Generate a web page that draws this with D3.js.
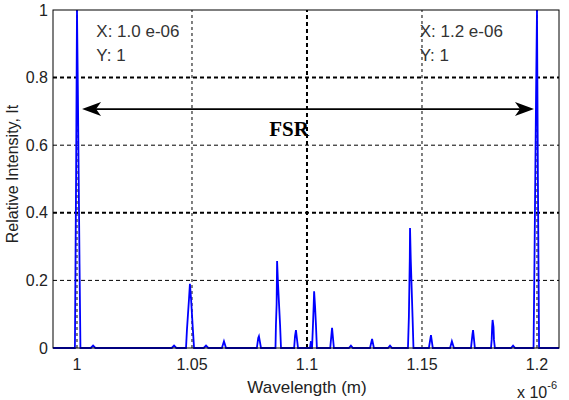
<!DOCTYPE html>
<html>
<head>
<meta charset="utf-8">
<script src="https://cdn.jsdelivr.net/npm/d3@7"></script>
<style>
  body { margin: 0; background: #fff; }
  text { font-family: "Liberation Sans", Arial, sans-serif; fill: #222; }
</style>
</head>
<body>
<svg id="chart"></svg>
<script>
const width = 569;
const height = 400;
const margin = {top: 10, right: 10, bottom: 52, left: 53};

// wavelength in units of 1e-6 m, relative intensity
const wavelength = [
  0.9896,
  0.9991, 0.9996, 1.0000, 1.0004, 1.0011, 1.0015,
  1.0060, 1.0070, 1.0080,
  1.0412, 1.0422, 1.0432,
  1.0474, 1.0478, 1.0487, 1.0491, 1.0496, 1.0504, 1.0509,
  1.0551, 1.0561, 1.0571,
  1.0630, 1.0639, 1.0648,
  1.0782, 1.0788, 1.0791, 1.0800,
  1.0863, 1.0865, 1.0868, 1.0870, 1.0874, 1.0883, 1.0887,
  1.0944, 1.0948, 1.0952, 1.0961,
  1.1013, 1.1017, 1.1020,
  1.1022, 1.1026, 1.1029, 1.1031, 1.1035, 1.1039, 1.1043,
  1.1101, 1.1107, 1.1109, 1.1117,
  1.1182, 1.1191, 1.1200,
  1.1274, 1.1283, 1.1291,
  1.1352, 1.1361, 1.1370,
  1.1439, 1.1443, 1.1447, 1.1448, 1.1451, 1.1459, 1.1463,
  1.1530, 1.1537, 1.1539, 1.1547,
  1.1622, 1.1630, 1.1639,
  1.1713, 1.1719, 1.1722, 1.1730,
  1.1800, 1.1803, 1.1805, 1.1807, 1.1811, 1.1813, 1.1817,
  1.1887, 1.1896, 1.1905,
  1.1985, 1.1989, 1.1996, 1.2000, 1.2004, 1.2009,
  1.2096
];
const intensity = [
  0,
  0, 0.5, 1, 0.75, 0.25, 0,
  0, 0.007, 0,
  0, 0.007, 0,
  0, 0.053, 0.145, 0.19, 0.145, 0.053, 0,
  0, 0.007, 0,
  0, 0.02, 0,
  0, 0.03, 0.035, 0,
  0, 0.068, 0.13, 0.257, 0.19, 0.068, 0,
  0, 0.035, 0.053, 0,
  0, 0.02, 0,
  0, 0.068, 0.124, 0.168, 0.124, 0.068, 0,
  0, 0.045, 0.06, 0,
  0, 0.007, 0,
  0, 0.027, 0,
  0, 0.007, 0,
  0, 0.092, 0.266, 0.355, 0.266, 0.092, 0,
  0, 0.03, 0.038, 0,
  0, 0.02, 0,
  0, 0.038, 0.053, 0,
  0, 0.024, 0.062, 0.083, 0.062, 0.024, 0,
  0, 0.007, 0,
  0, 0.25, 0.75, 1, 0.5, 0,
  0
];

const xTicks = [1, 1.05, 1.1, 1.15, 1.2];
const xTickLabels = ["1", "1.05", "1.1", "1.15", "1.2"];
const yTicks = [0, 0.2, 0.4, 0.6, 0.8, 1];
const yTickLabels = ["0", "0.2", "0.4", "0.6", "0.8", "1"];
const heavyGridX = [1.1];
const heavyGridY = [0.4, 0.8];

const dataTips = [
  {x: 1.0, y: 1, at: 1.0084},
  {x: 1.2, y: 1, at: 1.1490}
];
const fsr = {from: 1.0022, to: 1.1987, level: 0.707, label: "FSR"};

const svg = d3.select('#chart').attr('width', width).attr('height', height);
svg.append('rect').attr('width', width).attr('height', height).attr('fill', '#fff');

const x = d3.scaleLinear().domain([0.98957, 1.20957]).range([margin.left, width - margin.right]);
const y = d3.scaleLinear().domain([0, 1]).range([height - margin.bottom, margin.top]);

// Grid
const grid = svg.append('g');
grid.selectAll('line.gx')
  .data(xTicks)
  .join('line')
  .attr('x1', d => x(d)).attr('x2', d => x(d))
  .attr('y1', y(0)).attr('y2', y(1))
  .style('stroke', '#000')
  .style('stroke-width', d => heavyGridX.includes(d) ? 2 : 1)
  .style('stroke-dasharray', d => heavyGridX.includes(d) ? '4,3' : '3,3');
grid.selectAll('line.gy')
  .data(yTicks.filter(d => d > 0 && d < 1))
  .join('line')
  .attr('x1', x.range()[0]).attr('x2', x.range()[1])
  .attr('y1', d => y(d)).attr('y2', d => y(d))
  .style('stroke', '#000')
  .style('stroke-width', d => heavyGridY.includes(d) ? 2 : 1)
  .style('stroke-dasharray', '4,3');

// Spectrum
const points = wavelength.map((w, i) => [w, intensity[i]]);
svg.append('path')
  .datum(points)
  .attr('d', d3.line().x(d => x(d[0])).y(d => y(d[1])))
  .style('fill', 'none')
  .style('stroke', '#0000ff')
  .style('stroke-width', 1.8)
  .style('stroke-linejoin', 'miter');

// Axes box
svg.append('rect')
  .attr('x', x.range()[0]).attr('y', y(1))
  .attr('width', x.range()[1] - x.range()[0])
  .attr('height', y(0) - y(1))
  .style('fill', 'none').style('stroke', '#000').style('stroke-width', 1);

// Tick labels
svg.append('g')
  .selectAll('text')
  .data(xTicks)
  .join('text')
  .attr('x', d => x(d))
  .attr('y', y(0) + 22)
  .attr('text-anchor', 'middle')
  .attr('font-size', 16)
  .text((d, i) => xTickLabels[i]);
svg.append('g')
  .selectAll('text')
  .data(yTicks)
  .join('text')
  .attr('x', x.range()[0] - 5)
  .attr('y', d => y(d))
  .attr('dy', '0.35em')
  .attr('text-anchor', 'end')
  .attr('font-size', 16)
  .text((d, i) => yTickLabels[i]);

// Axis labels
svg.append('text')
  .attr('x', 307).attr('y', 393)
  .attr('text-anchor', 'middle')
  .attr('font-size', 17)
  .text('Wavelength (m)');
const expo = svg.append('text')
  .attr('x', 517).attr('y', 398)
  .attr('font-size', 16);
expo.append('tspan').text('x 10');
expo.append('tspan').attr('font-size', 11).attr('dy', -9).text('-6');
svg.append('text')
  .attr('transform', `translate(18, 174) rotate(-90)`)
  .attr('text-anchor', 'middle')
  .attr('font-size', 16)
  .text('Relative Intensity, It');

// Data tips
const tips = svg.append('g');
dataTips.forEach(t => {
  tips.append('text').attr('x', x(t.at)).attr('y', 37).attr('font-size', 17)
    .style('fill', '#333').text(`X: ${t.x.toFixed(1)} e-06`);
  tips.append('text').attr('x', x(t.at)).attr('y', 61).attr('font-size', 17)
    .style('fill', '#333').text(`Y: ${t.y}`);
});

// FSR arrow
const ay = y(fsr.level);
const x0 = x(fsr.from), x1 = x(fsr.to);
svg.append('line')
  .attr('x1', x0 + 10).attr('x2', x1 - 10)
  .attr('y1', ay).attr('y2', ay)
  .style('stroke', '#000').style('stroke-width', 1.8);
const head = (tip, dir) => `M${tip},${ay} L${tip + dir * 19},${ay - 7} L${tip + dir * 14},${ay} L${tip + dir * 19},${ay + 7} Z`;
svg.append('path').attr('d', head(x0, 1)).style('fill', '#000');
svg.append('path').attr('d', head(x1, -1)).style('fill', '#000');
svg.append('text')
  .attr('x', 289).attr('y', 136)
  .attr('text-anchor', 'middle')
  .attr('font-weight', 'bold')
  .attr('font-size', 21)
  .style('font-family', '"Liberation Serif", "Times New Roman", serif')
  .style('fill', '#000')
  .text(fsr.label);
</script>
</body>
</html>
